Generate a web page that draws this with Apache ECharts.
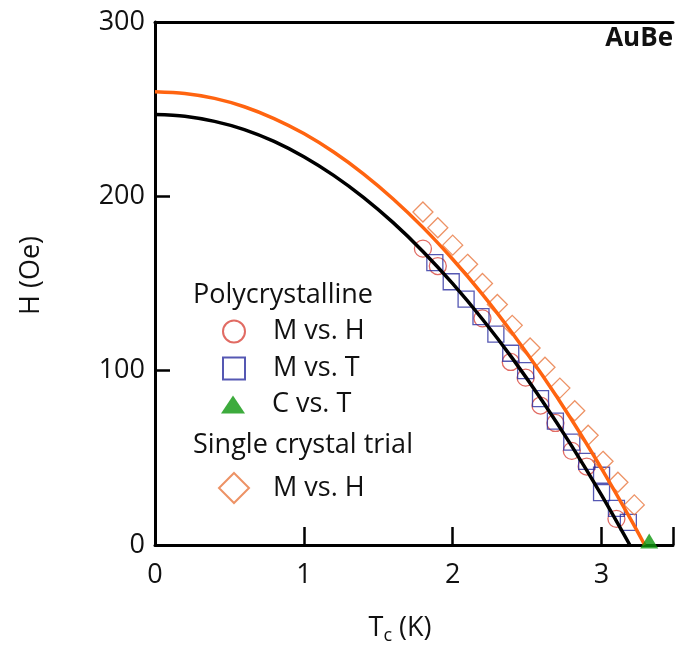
<!DOCTYPE html>
<html>
<head>
<meta charset="utf-8">
<script src="https://cdn.jsdelivr.net/npm/echarts@6/dist/echarts.min.js"></script>
<style>
  html, body { margin: 0; padding: 0; background: #fff; }
  #chart { width: 676px; height: 668px; }
</style>
</head>
<body>
<div id="chart"></div>
<script>
// Critical field vs. temperature for AuBe

// Polycrystalline, M vs. H  [T (K), H (Oe)]
const polyMH = [
  [1.80, 170], [1.90, 160], [2.20, 130], [2.39, 105], [2.49, 96],
  [2.59, 80], [2.69, 70], [2.80, 54], [2.90, 45], [3.10, 15]
];
// Polycrystalline, M vs. T
const polyMT = [
  [1.88, 162], [1.99, 151], [2.09, 141], [2.19, 131], [2.29, 121],
  [2.39, 110], [2.49, 100], [2.59, 84], [2.69, 71], [2.80, 59],
  [2.90, 48], [3.00, 40], [3.00, 30], [3.10, 21], [3.18, 13]
];
// Polycrystalline, C vs. T
const polyCT = [[3.32, 0]];
// Single crystal trial, M vs. H
const singleMH = [
  [1.80, 191], [1.90, 182], [2.00, 172], [2.10, 161], [2.20, 150],
  [2.30, 138], [2.40, 126], [2.52, 113], [2.62, 102], [2.72, 90],
  [2.82, 77], [2.91, 63], [3.01, 48], [3.11, 36], [3.22, 23]
];
// Fitted curves
const fitPoly = [
  [0, 247], [0.2, 246], [0.4, 243], [0.6, 238.3], [0.8, 231.5],
  [1.0, 222.7], [1.2, 212], [1.4, 199.4], [1.6, 184.9], [1.8, 168.4],
  [2.0, 149.9], [2.2, 129.5], [2.4, 107.2], [2.6, 82.9], [2.8, 56.7],
  [3.0, 28.6], [3.19, 0]
];
const fitSingle = [
  [0, 260], [0.2, 259], [0.4, 256.2], [0.6, 251.4], [0.8, 244.6],
  [1.0, 236], [1.2, 225.4], [1.4, 212.9], [1.6, 198.5], [1.8, 182.2],
  [2.0, 163.9], [2.2, 143.8], [2.4, 121.6], [2.6, 97.6], [2.8, 71.7],
  [3.0, 43.8], [3.2, 14.1], [3.29, 0]
];

const xTicks = [0, 1, 2, 3];
const yTicks = [0, 100, 200, 300];

const FONT = '"Open Sans", sans-serif';
const FS = 27;
const legendNames = {
  polyMH: 'M vs. H',
  polyMT: 'M vs. T',
  polyCT: 'C vs. T',
  singleMH: 'M vs. H'
};
const LEGEND_TEXT_X = 272;

function legendItem(name, left, top, w, h) {
  return {
    data: [name],
    left: left, top: top,
    itemWidth: w, itemHeight: h,
    padding: 0,
    selectedMode: false,
    formatter: n => legendNames[n],
    textStyle: {
      fontFamily: FONT, fontSize: FS, color: '#111',
      padding: [0, 0, 0, LEGEND_TEXT_X - left - w - 5]
    }
  };
}

const chart = echarts.init(document.getElementById('chart'), null, { renderer: 'canvas' });

chart.setOption({
  animation: false,
  backgroundColor: '#fff',
  textStyle: { fontFamily: FONT },
  grid: { left: 155, top: 22, right: 1, bottom: 123, containLabel: false },
  title: {
    text: 'AuBe', right: 3, top: 26, padding: 0,
    textStyle: { fontFamily: FONT, fontWeight: 'bold', fontSize: 26, color: '#111' }
  },
  legend: [
    legendItem('polyMH', 222, 318, 22, 22),
    legendItem('polyMT', 222, 355, 22, 22),
    legendItem('polyCT', 221, 391, 24, 18),
    legendItem('singleMH', 218, 472, 30, 30)
  ],
  graphic: [
    { type: 'text', left: 193, top: 282,
      style: { text: 'Polycrystalline', fontFamily: FONT, fontSize: FS, fill: '#111' } },
    { type: 'text', left: 193, top: 432,
      style: { text: 'Single crystal trial', fontFamily: FONT, fontSize: FS, fill: '#111' } }
  ],
  xAxis: [{
    type: 'value', min: 0, max: 3.48, interval: 1,
    axisLine: { lineStyle: { color: '#000', width: 3 } },
    axisTick: { inside: true, length: 18, lineStyle: { color: '#000', width: 2.5 } },
    axisLabel: {
      fontFamily: FONT, fontSize: FS, color: '#111', margin: 17,
      formatter: v => (xTicks.indexOf(v) >= 0 ? String(v) : '')
    },
    splitLine: { show: false },
    name: '{a|T}{b|c}{a| (K)}',
    nameLocation: 'middle', nameGap: 67,
    nameTextStyle: {
      padding: [0, 28, 0, 0],
      rich: {
        a: { fontFamily: FONT, fontSize: FS, color: '#111' },
        b: { fontFamily: FONT, fontSize: 18, color: '#111', padding: [15, 0, 0, 0] }
      }
    }
  }, {
    type: 'value', position: 'top', min: 0, max: 3.48,
    axisLine: { show: true, lineStyle: { color: '#000', width: 3 } },
    axisTick: { show: false }, axisLabel: { show: false }, splitLine: { show: false }
  }],
  yAxis: {
    type: 'value', min: 0, max: 300, interval: 100,
    axisLine: { lineStyle: { color: '#000', width: 3 } },
    axisTick: { inside: true, length: 15, lineStyle: { color: '#000', width: 2.5 } },
    axisLabel: {
      fontFamily: FONT, fontSize: FS, color: '#111', margin: 10,
      formatter: v => (yTicks.indexOf(v) >= 0 ? String(v) : '')
    },
    splitLine: { show: false },
    name: 'H (Oe)', nameLocation: 'middle', nameGap: 110,
    nameTextStyle: { fontFamily: FONT, fontSize: FS, color: '#111', padding: [0, 0, 0, 16] }
  },
  series: [
    {
      name: 'polyMH', type: 'scatter', data: polyMH, z: 2,
      symbol: 'circle', symbolSize: 17,
      itemStyle: { color: 'rgba(0,0,0,0)', borderColor: '#d9463c', borderWidth: 1.3 }
    },
    {
      name: 'polyMT', type: 'scatter', data: polyMT, z: 2,
      symbol: 'rect', symbolSize: 16,
      itemStyle: { color: 'rgba(0,0,0,0)', borderColor: '#2b2ea0', borderWidth: 1.3 }
    },
    {
      name: 'singleMH', type: 'scatter', data: singleMH, z: 2,
      symbol: 'diamond', symbolSize: 20,
      itemStyle: { color: 'rgba(0,0,0,0)', borderColor: '#e8773e', borderWidth: 1.3 }
    },
    {
      name: 'fitPoly', type: 'line', data: fitPoly, z: 3,
      smooth: 0.3, showSymbol: false,
      lineStyle: { color: '#000', width: 3.5 }
    },
    {
      name: 'fitSingle', type: 'line', data: fitSingle, z: 3,
      smooth: 0.3, showSymbol: false,
      lineStyle: { color: '#ff6410', width: 3.5 }
    },
    {
      name: 'polyCT', type: 'scatter', data: polyCT, z: 4,
      symbol: 'triangle', symbolSize: [18, 15], symbolOffset: [0, -4],
      clip: false,
      itemStyle: { color: '#0c960c' }
    }
  ]
});
</script>
</body>
</html>
